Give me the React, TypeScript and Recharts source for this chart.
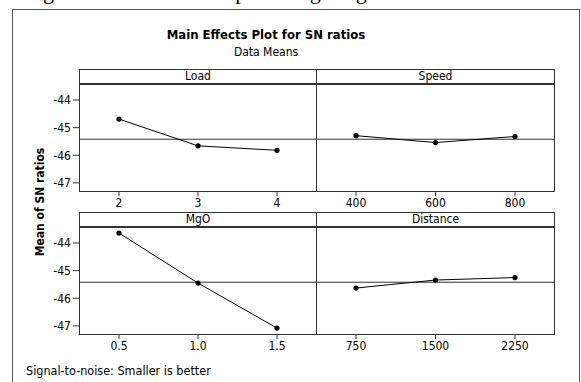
import React from 'react';
import { LineChart, Line, XAxis, YAxis, ReferenceLine } from 'recharts';

const loadLevels = ['2', '3', '4'];
const loadMeans = [-44.69, -45.66, -45.82];
const speedLevels = ['400', '600', '800'];
const speedMeans = [-45.29, -45.54, -45.32];
const mgoLevels = ['0.5', '1.0', '1.5'];
const mgoMeans = [-43.64, -45.45, -47.08];
const distanceLevels = ['750', '1500', '2250'];
const distanceMeans = [-45.63, -45.34, -45.25];
const grandMean = -45.42;
const yTicks = [-47, -46, -45, -44];
const yDomain = [-47.33, -43.42];

const FONT = "Tahoma, 'DejaVu Sans Condensed', 'DejaVu Sans', sans-serif";
const FRAME = '#333';

const toRows = (levels: string[], means: number[]) =>
  levels.map((level, i) => ({ level, mean: means[i] }));

interface PanelProps {
  name: string;
  levels: string[];
  means: number[];
  left: number; // plot area left
  top: number; // header top
  width: number;
  showY: boolean;
}

const HEADER = 15;
const PLOT_H = 108;
const Y_W = 40;
const X_H = 22;

const Panel: React.FC<PanelProps> = ({ name, levels, means, left, top, width, showY }) => {
  const plotTop = top + HEADER;
  const chartLeft = showY ? left - Y_W : left;
  const chartW = showY ? width + Y_W : width;
  // levels sit in the middle of three equal bands
  const pad = Math.round(width / 6);
  return (
    <>
      <div
        style={{
          position: 'absolute',
          left,
          top,
          width: width - 2,
          height: HEADER - 2,
          border: `1px solid ${FRAME}`,
          borderBottomWidth: 2,
          textAlign: 'center',
          fontSize: 12,
          lineHeight: `${HEADER - 2}px`,
        }}
      >
        {name}
      </div>
      <div style={{ position: 'absolute', left: chartLeft, top: plotTop }}>
        <LineChart
          width={chartW}
          height={PLOT_H + X_H}
          data={toRows(levels, means)}
          margin={{ top: 0, right: 0, bottom: 0, left: 0 }}
        >
          <XAxis
            dataKey="level"
            axisLine={false}
            padding={{ left: pad, right: pad }}
            tickSize={4}
            tickLine={{ stroke: FRAME }}
            height={X_H}
            tick={{ fontSize: 12, fill: '#000', fontFamily: FONT }}
          />
          <YAxis
            domain={yDomain}
            ticks={yTicks}
            type="number"
            allowDataOverflow
            hide={!showY}
            width={Y_W}
            axisLine={false}
            tickSize={6}
            tickLine={{ stroke: FRAME }}
            tick={{ fontSize: 12, fill: '#000', fontFamily: FONT }}
          />
          <ReferenceLine y={grandMean} stroke={FRAME} strokeWidth={1} />
          <Line
            dataKey="mean"
            stroke="#000"
            strokeWidth={1}
            dot={{ r: 2.6, fill: '#000', stroke: '#000', strokeWidth: 0 }}
            isAnimationActive={false}
          />
        </LineChart>
      </div>
      <div
        style={{
          position: 'absolute',
          left,
          top: plotTop,
          width: width - 2,
          height: PLOT_H - 1,
          border: `1px solid ${FRAME}`,
          borderTop: 'none',
          pointerEvents: 'none',
        }}
      />
    </>
  );
};

export default function App() {
  return (
    <div
      style={{
        position: 'absolute',
        left: 0,
        top: 0,
        width: 581,
        height: 382,
        background: '#fff',
        overflow: 'hidden',
        fontFamily: FONT,
        color: '#000',
      }}
    >
      <div
        style={{
          position: 'absolute',
          left: -6,
          top: -21,
          fontFamily: "'Liberation Serif', 'Times New Roman', serif",
          fontSize: 22,
          whiteSpace: 'nowrap',
        }}
      >
        sliding distance 750 m and percentage MgO as 0.5%.
      </div>
      <div
        style={{
          position: 'absolute',
          left: 12,
          top: 9,
          width: 566,
          height: 400,
          border: '1px solid #555',
          borderBottom: 'none',
          background: '#fff',
        }}
      />
      <div
        style={{
          position: 'absolute',
          left: 116,
          width: 300,
          top: 27,
          textAlign: 'center',
          fontSize: 13,
          fontWeight: 'bold',
        }}
      >
        Main Effects Plot for SN ratios
      </div>
      <div
        style={{ position: 'absolute', left: 166, width: 200, top: 45, textAlign: 'center', fontSize: 12 }}
      >
        Data Means
      </div>
      <div
        style={{
          position: 'absolute',
          left: 40,
          top: 202,
          transform: 'translate(-50%, -50%) rotate(-90deg)',
          whiteSpace: 'nowrap',
          fontSize: 12,
          fontWeight: 'bold',
        }}
      >
        Mean of SN ratios
      </div>
      <Panel name="Load" levels={loadLevels} means={loadMeans} left={79} top={69} width={238} showY />
      <Panel name="Speed" levels={speedLevels} means={speedMeans} left={316} top={69} width={239} showY={false} />
      <Panel name="MgO" levels={mgoLevels} means={mgoMeans} left={79} top={212} width={238} showY />
      <Panel name="Distance" levels={distanceLevels} means={distanceMeans} left={316} top={212} width={239} showY={false} />
      <div style={{ position: 'absolute', left: 26, top: 363, fontSize: 12.5, whiteSpace: 'nowrap' }}>
        Signal-to-noise: Smaller is better
      </div>
    </div>
  );
}
